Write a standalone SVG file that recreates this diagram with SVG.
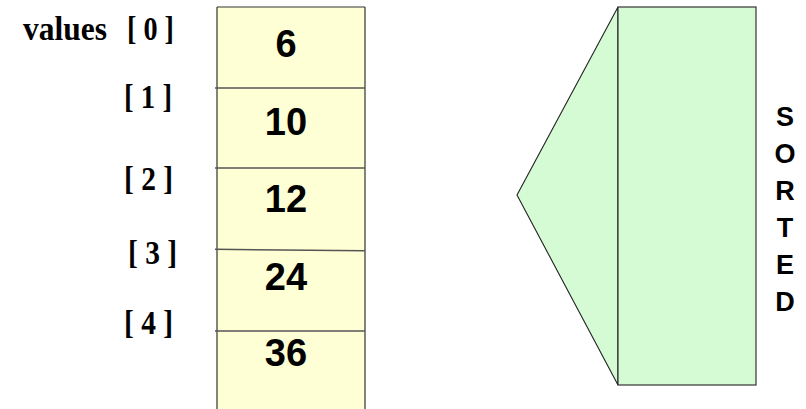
<svg xmlns="http://www.w3.org/2000/svg" width="806" height="409" viewBox="0 0 806 409">
<style>
.lbl{font-family:"Liberation Serif","Times New Roman",serif;font-weight:bold;font-size:33px;fill:#000}
.num{font-family:"Liberation Sans",Arial,sans-serif;font-weight:bold;font-size:38px;fill:#000;text-anchor:middle}
.sort{font-family:"Liberation Sans",Arial,sans-serif;font-weight:bold;font-size:27px;fill:#000;text-anchor:middle}
.cell{fill:#ffffd5;stroke:none}
.edge{stroke:#333;stroke-width:1.2;fill:none}
.div{stroke:#555;stroke-width:1.5;fill:none}
.green{fill:#d4fbd4;stroke:#222;stroke-width:1.1}
</style>
<rect width="806" height="409" fill="#fff"/>
<g id="labels">
<text class="lbl" x="23" y="40" textLength="84" lengthAdjust="spacingAndGlyphs">values</text>
<text class="lbl" x="127" y="40" textLength="47" lengthAdjust="spacingAndGlyphs">[ 0 ]</text>
<text class="lbl" x="124" y="108" textLength="48" lengthAdjust="spacingAndGlyphs">[ 1 ]</text>
<text class="lbl" x="124" y="190" textLength="49" lengthAdjust="spacingAndGlyphs">[ 2 ]</text>
<text class="lbl" x="128" y="264" textLength="49" lengthAdjust="spacingAndGlyphs">[ 3 ]</text>
<text class="lbl" x="124" y="334" textLength="49" lengthAdjust="spacingAndGlyphs">[ 4 ]</text>
</g>
<g id="array">
<rect class="cell" x="217" y="7" width="148" height="402"/>
<path class="edge" d="M217 7H365M217 7V409M365 7V409"/>
</g>
<g id="connectors">
<path class="div" d="M215 88H365"/>
<path class="div" d="M215 168H365"/>
<path class="div" d="M215 249.3L365 250.7"/>
<path class="div" d="M215 331H365"/>
</g>
<g id="cell0"><text class="num" x="286" y="57">6</text></g>
<g id="cell1"><text class="num" x="286" y="135">10</text></g>
<g id="cell2"><text class="num" x="286" y="212">12</text></g>
<g id="cell3"><text class="num" x="286" y="290">24</text></g>
<g id="cell4"><text class="num" x="286" y="366">36</text></g>
<g id="sorted">
<polygon class="green" points="618,7 517,195 618,385"/>
<rect class="green" x="618" y="7" width="138" height="378"/>
</g>
<g id="sorted-label">
<text class="sort" x="785" y="126">S</text>
<text class="sort" x="785" y="163">O</text>
<text class="sort" x="785" y="200">R</text>
<text class="sort" x="785" y="237">T</text>
<text class="sort" x="785" y="274">E</text>
<text class="sort" x="785" y="311">D</text>
</g>
</svg>
